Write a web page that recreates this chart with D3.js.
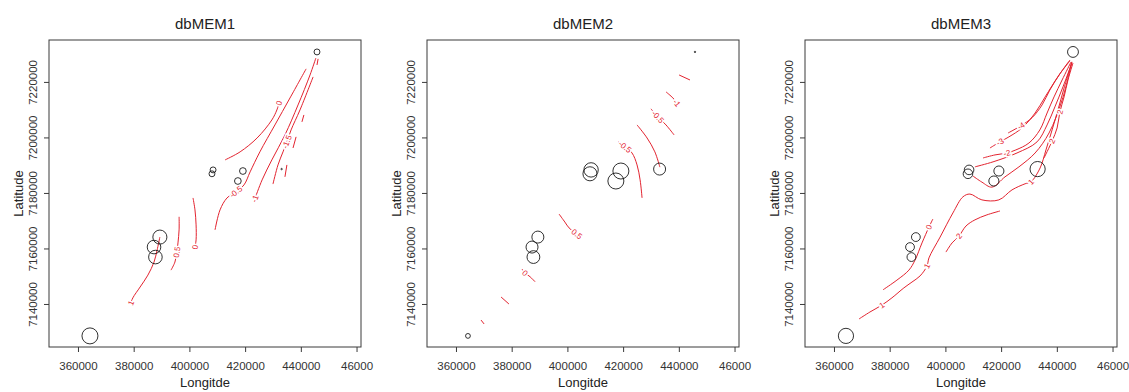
<!DOCTYPE html>
<html>
<head>
<meta charset="utf-8">
<script src="https://cdn.jsdelivr.net/npm/d3@7"></script>
<style>
  body { margin: 0; background: #fff; }
  text { font-family: "Liberation Sans", Arial, sans-serif; }
</style>
</head>
<body>
<svg id="chart" width="1129" height="392"></svg>
<script>
// panel titles
const titles = ["dbMEM1", "dbMEM2", "dbMEM3"];

// sampling sites (UTM metres)
const siteLon = [445800, 408500, 408100, 419200, 417400, 433100, 389400, 387300, 387800, 364300];
const siteLat = [7230800, 7188300, 7186900, 7187900, 7184300, 7188600, 7164100, 7160500, 7156900, 7128500];

// |dbMEM| scores, circle radius is proportional
const mem1 = [0.37, 0.37, 0.37, 0.42, 0.42, 0.08, 0.88, 0.85, 0.85, 1.0];
const mem2 = [0.06, 0.9, 0.88, 1.0, 1.0, 0.75, 0.75, 0.75, 0.8, 0.3];
const mem3 = [0.68, 0.6, 0.6, 0.63, 0.63, 0.95, 0.55, 0.55, 0.55, 0.95];

const xTicks = [360000, 380000, 400000, 420000, 440000, 460000];
// last label is cut short in the original figure
const xTickLabels = ["360000", "380000", "400000", "420000", "440000", "46000"];
const yTicks = [7140000, 7160000, 7180000, 7200000, 7220000];

// contour lines, points in thousands of metres [lon, lat]; lab = indexes of labelled points
const contours1 = [
  { lev: "0", lab: [5], pts: [[412.8,7191.9],[418.2,7194.8],[424.3,7199.8],[429.6,7206.3],[431.4,7209.9],[432.2,7212.4]] },
  { lev: "-0.5", lab: [3], pts: [[409.2,7166.7],[411.0,7173.9],[413.5,7178.2],[416.7,7180.4],[419.6,7182.9],[421.8,7187.6],[425.3,7194.8],[430.7,7204.5],[436.1,7214.2],[441.9,7224.7]] },
  { lev: "-1", lab: [0], pts: [[423.5,7177.9],[426.1,7184.7],[429.6,7191.9],[434.3,7200.9],[439.0,7211.7],[443.3,7222.5],[445.4,7228.6]] },
  { lev: "-1.5", lab: [3], pts: [[430.0,7183.2],[431.8,7190.1],[433.6,7194.8],[435.0,7198.4],[436.5,7202.7],[439.7,7209.9],[444.4,7221.8]] },
  { lev: "-2", lab: [], pts: [[434.3,7185.8],[435.0,7190.1]] },
  { lev: "-2", lab: [], pts: [[437.2,7196.2],[438.3,7200.2]] },
  { lev: "-2", lab: [], pts: [[440.4,7205.6],[441.1,7208.1]] },
  { lev: "-2", lab: [], pts: [[445.8,7226.1],[446.2,7228.3]] },
  { lev: "0", lab: [4], pts: [[401.3,7178.2],[402.0,7173.9],[402.4,7168.5],[402.4,7163.1],[402.0,7160.5]] },
  { lev: "0.5", lab: [3], pts: [[396.3,7171.4],[396.3,7166.7],[395.9,7162.0],[395.5,7158.7],[394.8,7155.1],[393.4,7152.2]] },
  { lev: "1", lab: [0], pts: [[379.0,7140.4],[379.7,7142.2],[382.3,7146.1],[385.1,7150.4],[387.3,7155.1],[388.4,7159.4],[389.4,7164.1]] }
];

const contours2 = [
  { lev: "-0.5", lab: [1], pts: [[418.2,7198.4],[420.7,7196.6],[423.2,7194.4],[425.0,7190.1],[426.1,7184.7],[426.8,7178.2]] },
  { lev: "-1", lab: [], pts: [[425.0,7204.5],[428.6,7199.8],[431.4,7194.8],[433.2,7189.3]] },
  { lev: "-0.5", lab: [1], pts: [[430.0,7210.3],[432.5,7207.4],[435.4,7204.5],[438.3,7200.9]] },
  { lev: "-1", lab: [2], pts: [[435.4,7216.4],[437.9,7214.2],[439.3,7212.4]] },
  { lev: "-1.5", lab: [], pts: [[440.1,7222.5],[444.0,7220.7]] },
  { lev: "0.5", lab: [3], pts: [[397.0,7172.4],[399.1,7169.5],[400.6,7167.4],[403.4,7165.2]] },
  { lev: "0", lab: [1], pts: [[383.7,7152.6],[384.8,7151.2],[386.6,7149.8],[388.4,7148.0]] },
  { lev: "0.5", lab: [], pts: [[376.2,7142.5],[379.0,7140.0]] },
  { lev: "1", lab: [], pts: [[369.0,7134.2],[370.1,7132.8]] }
];

const contours3 = [
  { lev: "-4", lab: [1], pts: [[422.5,7201.6],[427.1,7204.2],[431.1,7207.1],[434.7,7211.7],[437.5,7217.1],[441.1,7222.9],[444.7,7227.9]] },
  { lev: "-3", lab: [1], pts: [[416.0,7196.2],[419.6,7198.4],[422.8,7200.2],[427.5,7203.4],[432.2,7208.8],[435.8,7214.6],[440.8,7222.5],[444.7,7227.6]] },
  { lev: "-2", lab: [2], pts: [[413.5,7192.6],[417.8,7193.7],[422.1,7194.4],[425.3,7195.5],[430.0,7198.0],[433.9,7202.7],[436.5,7208.8],[439.0,7214.6],[441.9,7220.7],[445.1,7227.2]] },
  { lev: "-1", lab: [], pts: [[410.6,7189.4],[417.1,7191.2],[425.7,7194.4],[432.9,7198.4],[436.5,7204.5],[439.3,7211.0],[442.2,7218.2],[445.4,7226.8]] },
  { lev: "0", lab: [], pts: [[409.9,7186.1],[413.1,7183.9],[416.7,7182.1],[421.4,7185.8],[426.4,7189.4],[432.2,7194.4],[437.2,7201.6],[441.9,7213.5],[445.4,7227.2]] },
  { lev: "1", lab: [2, 7, 17], pts: [[369.0,7134.6],[372.9,7137.1],[377.2,7139.6],[380.8,7142.2],[385.1,7145.8],[388.0,7147.9],[390.9,7150.1],[393.4,7153.7],[394.1,7156.6],[398.1,7164.1],[402.7,7172.8],[406.3,7178.6],[408.8,7179.6],[413.1,7177.5],[419.2,7177.5],[423.9,7181.1],[428.6,7183.3],[430.7,7184.0],[434.0,7189.0],[436.1,7195.5],[438.3,7202.7],[440.4,7209.9],[442.6,7217.8],[445.4,7227.2]] },
  { lev: "0", lab: [5], pts: [[377.6,7145.1],[382.6,7148.6],[386.9,7152.2],[389.1,7155.8],[391.6,7162.0],[394.1,7167.7],[395.5,7170.6]] },
  { lev: "2", lab: [2], pts: [[400.2,7158.7],[402.4,7162.0],[404.9,7164.5],[407.4,7168.1],[410.6,7170.3],[414.9,7172.1],[419.6,7173.5]] },
  { lev: "2", lab: [1, 3], pts: [[435.4,7192.6],[438.3,7198.7],[440.1,7203.4],[441.1,7209.2],[442.6,7214.6],[444.0,7220.7],[445.8,7226.8]] }
];

const panels = [
  { title: titles[0], vals: mem1, cont: contours1 },
  { title: titles[1], vals: mem2, cont: contours2 },
  { title: titles[2], vals: mem3, cont: contours3 }
];

const plotW = 312, plotH = 307, plotTop = 40;
const red = "#e3232f";

const svg = d3.select("#chart");

const x = d3.scaleLinear().domain([349600, 461600]).range([0, plotW]);
const y = d3.scaleLinear().domain([7124500, 7235100]).range([plotH, 0]);
const r = d3.scaleLinear().domain([0, 1]).range([0, 8]);

const line = d3.line()
  .x(p => x(p[0] * 1000))
  .y(p => y(p[1] * 1000))
  .curve(d3.curveCatmullRom.alpha(0.5));

panels.forEach((pn, i) => {
  const x0 = 49 + i * 378;

  const g = svg.append("g")
    .attr("transform", "translate(" + x0 + "," + plotTop + ")");

  // contour lines
  g.selectAll("path.cl")
    .data(pn.cont)
    .enter()
    .append("path")
    .attr("class", "cl")
    .attr("d", d => line(d.pts))
    .attr("fill", "none")
    .attr("stroke", red)
    .attr("stroke-width", 1);

  // contour labels
  const labs = [];
  pn.cont.forEach(c => {
    c.lab.forEach(k => {
      const a = c.pts[Math.max(k - 1, 0)], b = c.pts[Math.min(k + 1, c.pts.length - 1)];
      let ang = Math.atan2(y(b[1] * 1000) - y(a[1] * 1000), x(b[0] * 1000) - x(a[0] * 1000)) * 180 / Math.PI;
      if (ang > 90) ang -= 180;
      if (ang < -90) ang += 180;
      labs.push({ t: c.lev, px: x(c.pts[k][0] * 1000), py: y(c.pts[k][1] * 1000), ang: ang });
    });
  });
  g.selectAll("text.cll")
    .data(labs)
    .enter()
    .append("text")
    .attr("class", "cll")
    .attr("transform", d => "translate(" + d.px + "," + d.py + ")rotate(" + d.ang + ")")
    .attr("text-anchor", "middle")
    .attr("dy", "0.35em")
    .attr("font-size", 8)
    .attr("fill", red)
    .attr("stroke", "#fff")
    .attr("stroke-width", 3)
    .attr("paint-order", "stroke")
    .text(d => d.t);

  // sites
  g.selectAll("circle.site")
    .data(pn.vals)
    .enter()
    .append("circle")
    .attr("class", "site")
    .attr("cx", (d, j) => x(siteLon[j]))
    .attr("cy", (d, j) => y(siteLat[j]))
    .attr("r", d => Math.max(r(Math.abs(d)), 0.7))
    .attr("fill", "none")
    .attr("stroke", "#1a1a1a")
    .attr("stroke-width", 0.9);

  // box
  g.append("rect")
    .attr("width", plotW)
    .attr("height", plotH)
    .attr("fill", "none")
    .attr("stroke", "#3a3a3a")
    .attr("stroke-width", 1);

  // x axis
  const xa = g.append("g")
    .attr("transform", "translate(0," + plotH + ")")
    .call(d3.axisBottom(x).tickValues(xTicks).tickFormat((d, k) => xTickLabels[k]).tickSize(5));
  xa.select(".domain").remove();
  xa.selectAll("line").attr("stroke", "#3a3a3a");
  xa.selectAll("text")
    .attr("y", 23).attr("dy", 0)
    .attr("font-size", 11.5)
    .attr("font-family", "Liberation Sans, Arial, sans-serif")
    .attr("fill", "#333");

  // y axis
  const ya = g.append("g")
    .call(d3.axisLeft(y).tickValues(yTicks).tickFormat(d3.format("d")).tickSize(5));
  ya.select(".domain").remove();
  ya.selectAll("line").attr("stroke", "#3a3a3a");
  ya.selectAll("text")
    .attr("transform", "rotate(-90)")
    .attr("x", 0).attr("y", -12).attr("dy", 0)
    .attr("text-anchor", "middle")
    .attr("font-size", 11.5)
    .attr("font-family", "Liberation Sans, Arial, sans-serif")
    .attr("fill", "#333");

  // title and axis titles
  g.append("text")
    .attr("x", plotW / 2).attr("y", 29 - plotTop)
    .attr("text-anchor", "middle")
    .attr("font-size", 15)
    .attr("fill", "#222")
    .text(pn.title);

  g.append("text")
    .attr("x", plotW / 2).attr("y", 387 - plotTop)
    .attr("text-anchor", "middle")
    .attr("font-size", 13)
    .attr("fill", "#222")
    .text("Longitde");

  g.append("text")
    .attr("transform", "translate(-26," + (plotH / 2) + ")rotate(-90)")
    .attr("text-anchor", "middle")
    .attr("font-size", 13)
    .attr("fill", "#222")
    .text("Latitude");
});
</script>
</body>
</html>
